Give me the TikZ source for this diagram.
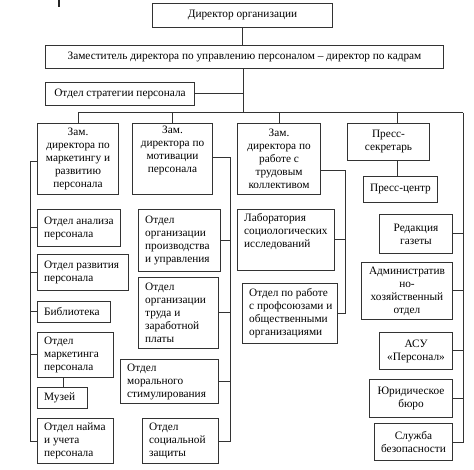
\documentclass[tikz,border=0pt]{standalone}
\usepackage{fontspec}
\setmainfont{Liberation Serif}
\tikzset{
  box/.style={draw=black!80, line width=1pt, inner sep=0pt, fill=white},
  txt/.style={inner sep=0pt, font=\fontsize{11.3}{13}\selectfont},
  wire/.style={draw=black!80, line width=1pt}
}
\newcommand\bx[8]{%
  \pgfmathsetmacro\bw{#4-#2}\pgfmathsetmacro\bh{#5-#3}%
  \node[box, minimum width=\bw pt, minimum height=\bh pt, anchor=north west] (#1) at (#2pt,-#3pt) {};
  \node[txt, align=#6, anchor=#7] (#1-t) at ([#8]#1.#7) {\csname txt#1\endcsname};
}
\begin{document}
\begin{tikzpicture}[x=1pt,y=1pt]
\useasboundingbox (0,0) rectangle (474,-470);
\fill[white] (0,0) rectangle (474,-470);
\draw[line width=2pt, black!85] (59,0) -- (59,-7);
% texts
\expandafter\def\csname txtdir\endcsname{Директор организации}
\expandafter\def\csname txtdep\endcsname{Заместитель директора по управлению персоналом – директор по кадрам}
\expandafter\def\csname txtstr\endcsname{Отдел стратегии персонала}
\expandafter\def\csname txtca\endcsname{Зам.\\директора по\\маркетингу и\\развитию\\персонала}
\expandafter\def\csname txtcb\endcsname{Зам.\\директора по\\мотивации\\персонала}
\expandafter\def\csname txtcc\endcsname{Зам.\\директора по\\работе с\\трудовым\\коллективом}
\expandafter\def\csname txtcd\endcsname{Пресс-\\секретарь}
\expandafter\def\csname txtpc\endcsname{Пресс-центр}
\expandafter\def\csname txtaa\endcsname{Отдел анализа\\персонала}
\expandafter\def\csname txtab\endcsname{Отдел развития\\персонала}
\expandafter\def\csname txtac\endcsname{Библиотека}
\expandafter\def\csname txtad\endcsname{Отдел\\маркетинга\\персонала}
\expandafter\def\csname txtae\endcsname{Музей}
\expandafter\def\csname txtaf\endcsname{Отдел найма\\и учета\\персонала}
\expandafter\def\csname txtba\endcsname{Отдел\\организации\\производства\\и управления}
\expandafter\def\csname txtbb\endcsname{Отдел\\организации\\труда и\\заработной\\платы}
\expandafter\def\csname txtbc\endcsname{Отдел\\морального\\стимулирования}
\expandafter\def\csname txtbd\endcsname{Отдел\\социальной\\защиты}
\expandafter\def\csname txtda\endcsname{Лаборатория\\социологических\\исследований}
\expandafter\def\csname txtdb\endcsname{Отдел по работе\\с профсоюзами и\\общественными\\организациями}
\expandafter\def\csname txtea\endcsname{Редакция\\газеты}
\expandafter\def\csname txteb\endcsname{Административ\\но-\\хозяйственный\\отдел}
\expandafter\def\csname txtec\endcsname{АСУ\\«Персонал»}
\expandafter\def\csname txted\endcsname{Юридическое\\бюро}
\expandafter\def\csname txtee\endcsname{Служба\\безопасности}
% top
\bx{dir}{152}{3}{332}{27}{center}{center}{xshift=0pt}
\bx{dep}{45}{45}{443}{68}{center}{center}{xshift=0pt}
\bx{str}{45}{82}{194}{105}{center}{center}{xshift=0pt}
% column heads
\bx{ca}{37}{123}{118}{194}{center}{center}{xshift=0pt}
\bx{cb}{132}{123}{212}{194}{center}{north}{yshift=-3pt}
\bx{cc}{237}{123}{320}{194}{center}{center}{xshift=0pt}
\bx{cd}{347}{123}{429}{160}{center}{center}{xshift=0pt}
\bx{pc}{363}{176}{437}{202}{center}{center}{xshift=0pt}
% column 1
\bx{aa}{37}{209}{120}{246}{left}{west}{xshift=7pt}
\bx{ab}{37}{254}{128}{290}{left}{west}{xshift=7pt}
\bx{ac}{37}{301}{110}{322}{left}{west}{xshift=7pt}
\bx{ad}{37}{332}{113}{377}{left}{west}{xshift=7pt}
\bx{ae}{37}{387}{87}{408}{left}{west}{xshift=7pt}
\bx{af}{37}{418}{113}{463}{left}{west}{xshift=7pt}
% column 2
\bx{ba}{138}{209}{220}{271}{left}{west}{xshift=7pt}
\bx{bb}{138}{277}{218}{348}{left}{west}{xshift=7pt}
\bx{bc}{120}{359}{218}{403}{left}{west}{xshift=7pt}
\bx{bd}{142}{418}{218}{463}{left}{west}{xshift=7pt}
% column 3
\bx{da}{237}{209}{334}{270}{left}{north west}{xshift=7pt,yshift=-4pt}
\bx{db}{242}{283}{337}{343}{left}{west}{xshift=7pt}
% column 4
\bx{ea}{379}{214}{452}{253}{center}{center}{xshift=0pt}
\bx{eb}{361}{262}{452}{319}{center}{center}{xshift=0pt}
\bx{ec}{379}{332}{452}{369}{center}{center}{xshift=0pt}
\bx{ed}{369}{379}{452}{417}{center}{center}{xshift=0pt}
\bx{ee}{374}{423}{452}{460}{center}{center}{xshift=0pt}
% spine coordinates
\coordinate (bus) at (243,-113);
\coordinate (busL) at (ca.north |- bus);
\coordinate (busR) at (463,-113);
\coordinate (pressx) at (397,-113);
\coordinate (sA) at (30,-162);
\coordinate (sB) at (230,-158);
\coordinate (sC) at (345,-171);
% connectors
\draw[wire] (dir.south) -- (dir.south |- dep.north);
\draw[wire] (dep.south -| bus) -- (bus);
\draw[wire] (str.east) -- (str.east -| bus);
\draw[wire] (busL) -- (busR);
\draw[wire] (busL) -- (ca.north);
\draw[wire] (cb.north |- bus) -- (cb.north);
\draw[wire] (cc.north |- bus) -- (cc.north);
\draw[wire] (pressx) -- (pressx |- cd.north);
\draw[wire] (pressx |- cd.south) -- (pressx |- pc.north);
% column 1
\draw[wire] (ca.west |- sA) -- (sA) -- (sA |- af.west) -- (af.west);
\foreach \n in {aa,ab,ac,ad} \draw[wire] (\n.west) -- (\n.west -| sA);
\draw[wire] (63,0 |- ad.south) -- (63,0 |- ae.north);
% column 2
\draw[wire] (cb.east |- sB) -- (sB) -- (sB |- bd.east) -- (bd.east);
\foreach \n in {ba,bb,bc} \draw[wire] (\n.east) -- (\n.east -| sB);
% column 3
\draw[wire] (cc.east |- sC) -- (sC) -- (sC |- db.east) -- (db.east);
\draw[wire] (da.east) -- (da.east -| sC);
% column 4
\draw[wire] (busR) -- (busR |- ee.east) -- (ee.east);
\foreach \n in {ea,eb,ec,ed} \draw[wire] (\n.east) -- (\n.east -| busR);
\end{tikzpicture}
\end{document}
